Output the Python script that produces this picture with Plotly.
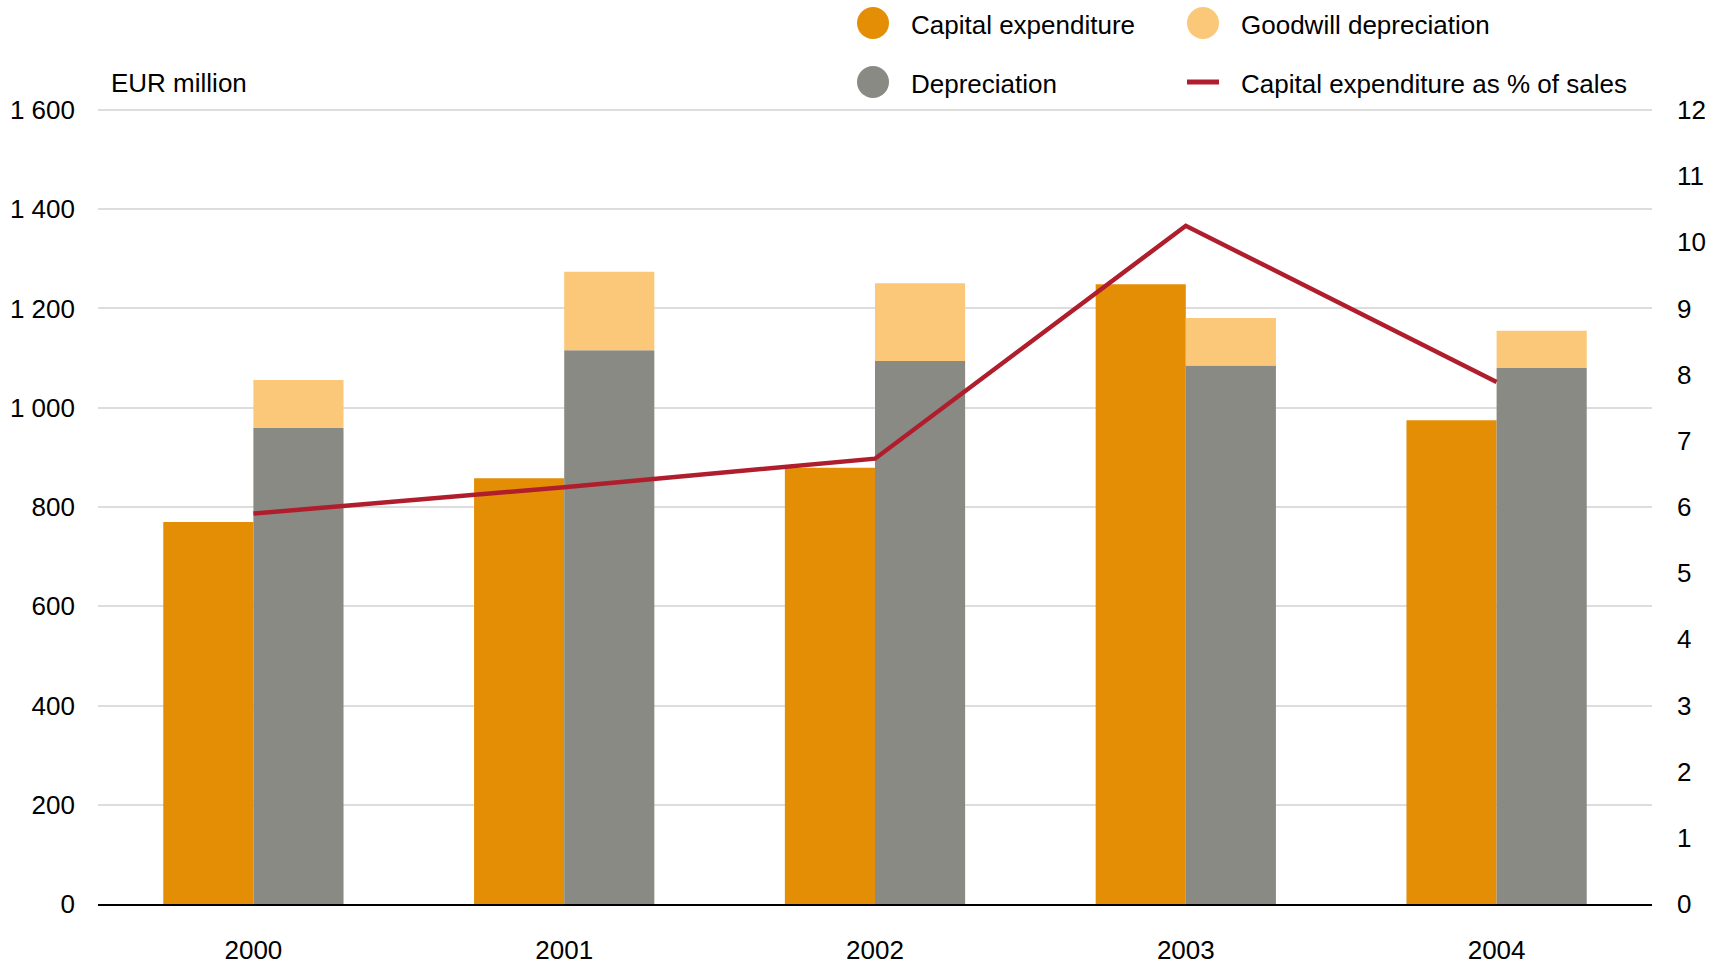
import plotly.graph_objects as go

years = ["2000", "2001", "2002", "2003", "2004"]
capital_expenditure = [770, 858, 879, 1249, 975]
depreciation = [959, 1116, 1094, 1085, 1080]
goodwill_depreciation = [97, 158, 157, 96, 75]
capex_pct_sales = [5.9, 6.3, 6.73, 10.25, 7.89]

left_ticks = [0, 200, 400, 600, 800, 1000, 1200, 1400, 1600]
left_labels = ["0", "200", "400", "600", "800", "1 000", "1 200", "1 400", "1 600"]
right_ticks = list(range(0, 13))

C_CAPEX = "#E38E05"
C_DEP = "#898A83"
C_GW = "#FAC878"
C_LINE = "#B01E2D"
FONT = "Liberation Sans Narrow, Arial Narrow, Liberation Sans, Arial, sans-serif"
FS = 26

W, H = 1718, 970
L, R, T, B = 98, 66, 108, 66
PW, PH = W - L - R, H - T - B
YMAX = 1604
Y2MAX = 12 * YMAX / 1600


def px(x):
    return (x - L) / PW


def py(y):
    return (H - B - y) / PH


fig = go.Figure()
fig.add_trace(go.Bar(x=years, y=capital_expenditure, name="Capital expenditure",
                     marker=dict(color=C_CAPEX, line=dict(width=0)), offsetgroup="a",
                     showlegend=False))
fig.add_trace(go.Bar(x=years, y=depreciation, name="Depreciation",
                     marker=dict(color=C_DEP, line=dict(width=0)), offsetgroup="b",
                     showlegend=False))
fig.add_trace(go.Bar(x=years, y=goodwill_depreciation, base=depreciation,
                     name="Goodwill depreciation",
                     marker=dict(color=C_GW, line=dict(width=0)), offsetgroup="b",
                     showlegend=False))
fig.add_trace(go.Scatter(x=years, y=capex_pct_sales, yaxis="y2", mode="lines",
                         name="Capital expenditure as % of sales",
                         line=dict(color=C_LINE, width=4.5), showlegend=False))

# legend built as layout shapes/annotations
legend_items = [
    ("circle", C_CAPEX, 873, 23, "Capital expenditure"),
    ("circle", C_GW, 1203, 23, "Goodwill depreciation"),
    ("circle", C_DEP, 873, 82, "Depreciation"),
    ("line", C_LINE, 1203, 82, "Capital expenditure as % of sales"),
]
shapes = []
annotations = []
for kind, col, cx, cy, text in legend_items:
    if kind == "circle":
        shapes.append(dict(type="circle", xref="paper", yref="paper",
                           xsizemode="pixel", ysizemode="pixel",
                           xanchor=px(cx), yanchor=py(cy),
                           x0=-16, x1=16, y0=-16, y1=16,
                           fillcolor=col, line=dict(width=0)))
    else:
        shapes.append(dict(type="rect", xref="paper", yref="paper",
                           xsizemode="pixel", ysizemode="pixel",
                           xanchor=px(cx), yanchor=py(cy),
                           x0=-16, x1=16, y0=-2.5, y1=2.5,
                           fillcolor=col, line=dict(width=0)))
    annotations.append(dict(text=text, xref="paper", yref="paper",
                            x=px(cx + 36), y=py(cy + 2), xanchor="left", yanchor="middle",
                            showarrow=False, font=dict(size=FS, color="#000000", family=FONT)))

annotations.append(dict(text="EUR million", xref="paper", yref="paper",
                        x=px(109), y=py(83), xanchor="left", yanchor="middle",
                        showarrow=False, font=dict(size=FS, color="#000000", family=FONT)))

fig.update_layout(
    width=W, height=H,
    margin=dict(l=L, r=R, t=T, b=B, autoexpand=False),
    paper_bgcolor="white", plot_bgcolor="white",
    barmode="group", bargap=0.42, bargroupgap=0,
    font=dict(family=FONT, size=FS, color="#000000"),
    showlegend=False,
    shapes=shapes, annotations=annotations,
    xaxis=dict(type="category", showgrid=False, showline=True, linecolor="#000000",
               linewidth=2, ticks="", ticklabelstandoff=22,
               tickfont=dict(size=FS, family=FONT), zeroline=False),
    yaxis=dict(range=[0, YMAX], tickvals=left_ticks, ticktext=left_labels,
               showgrid=True, gridcolor="#DDDDDD", gridwidth=2, zeroline=False,
               showline=False, ticks="", ticklabelstandoff=22,
               tickfont=dict(size=FS, family=FONT)),
    yaxis2=dict(range=[0, Y2MAX], tickvals=right_ticks, overlaying="y", side="right",
                showgrid=False, zeroline=False, showline=False, ticks="",
                ticklabelstandoff=24, tickfont=dict(size=FS, family=FONT)),
)

fig.write_html("out.html", config={"displayModeBar": False},
               post_script="document.body.style.margin='0';document.body.style.padding='0';")
